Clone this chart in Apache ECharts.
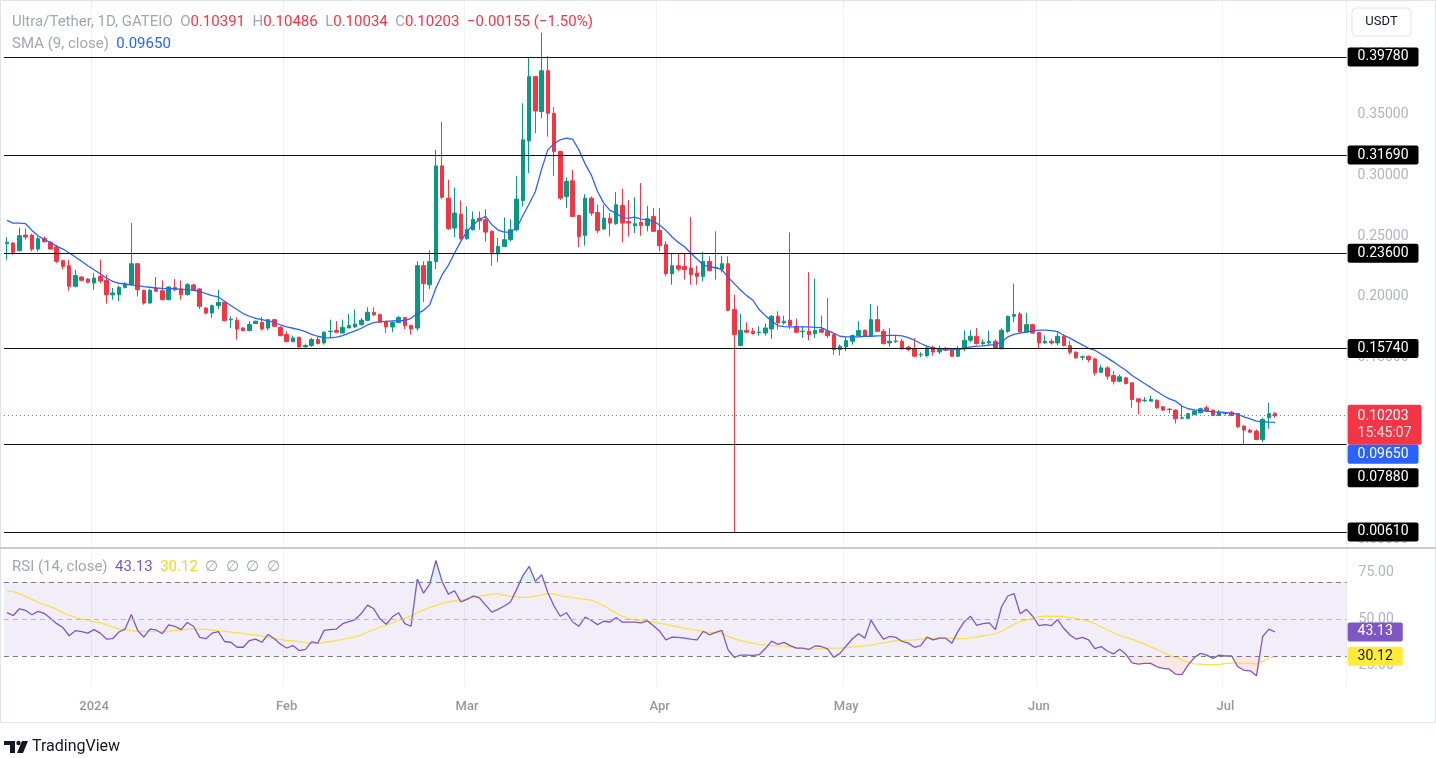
<!DOCTYPE html>
<html><head><meta charset="utf-8">
<style>html,body{margin:0;padding:0;background:#fff;}#c{width:1436px;height:758px;}</style>
<script src="https://cdn.jsdelivr.net/npm/echarts@6.0.0/dist/echarts.min.js"></script>
</head><body><div id="c"></div>
<script>
// ---------- data ----------
const startDate = '2023-12-18';
const futureSlots = 11;
const open = [0.2438,0.2444,0.2380,0.2509,0.2509,0.2394,0.2482,0.2449,0.2411,0.2298,
0.2257,0.2087,0.2164,0.2147,0.2114,0.2169,0.2136,0.2016,0.2018,0.2078,
0.2100,0.2273,0.2054,0.1949,0.2073,0.2051,0.1977,0.2078,0.2067,0.2018,
0.2098,0.2065,0.1908,0.1867,0.1927,0.1955,0.1810,0.1807,0.1743,0.1722,
0.1779,0.1790,0.1743,0.1812,0.1749,0.1689,0.1631,0.1667,0.1587,0.1598,
0.1648,0.1620,0.1713,0.1722,0.1702,0.1743,0.1752,0.1771,0.1807,0.1873,
0.1853,0.1799,0.1752,0.1788,0.1829,0.1763,0.1743,0.2257,0.2100,0.2290,
0.3080,0.2814,0.2567,0.2682,0.2479,0.2553,0.2649,0.2636,0.2540,0.2353,
0.2416,0.2471,0.2553,0.2795,0.3286,0.3816,0.3528,0.3865,0.3514,0.3198,
0.2828,0.2957,0.2671,0.2507,0.2814,0.2696,0.2559,0.2649,0.2603,0.2754,
0.2622,0.2586,0.2614,0.2589,0.2663,0.2548,0.2430,0.2191,0.2257,0.2251,
0.2238,0.2197,0.2169,0.2293,0.2238,0.2229,0.2273,0.1895,0.1598,0.1724,
0.1716,0.1705,0.1702,0.1735,0.1840,0.1785,0.1807,0.1757,0.1713,0.1716,
0.1697,0.1730,0.1716,0.1689,0.1565,0.1587,0.1634,0.1680,0.1724,0.1680,
0.1812,0.1716,0.1620,0.1636,0.1634,0.1585,0.1571,0.1522,0.1516,0.1585,
0.1546,0.1576,0.1560,0.1510,0.1571,0.1642,0.1675,0.1615,0.1620,0.1634,
0.1571,0.1716,0.1840,0.1859,0.1708,0.1771,0.1708,0.1620,0.1634,0.1620,
0.1675,0.1598,0.1543,0.1502,0.1510,0.1488,0.1378,0.1414,0.1351,0.1304,
0.1332,0.1291,0.1159,0.1145,0.1140,0.1148,0.1093,0.1074,0.1066,0.0999,
0.0997,0.1030,0.1044,0.1085,0.1066,0.1022,0.1041,0.1049,0.1038,0.0934,
0.0901,0.0893,0.0824,0.1003,0.10391];
const close = [0.2449,0.2367,0.2504,0.2493,0.2394,0.2479,0.2454,0.2394,0.2293,0.2251,
0.2087,0.2175,0.2136,0.2120,0.2155,0.2131,0.2018,0.2032,0.2078,0.2106,
0.2273,0.2059,0.1949,0.2054,0.2046,0.1977,0.2081,0.2059,0.2018,0.2100,
0.2059,0.1922,0.1867,0.1927,0.1955,0.1804,0.1815,0.1735,0.1722,0.1771,
0.1799,0.1735,0.1812,0.1757,0.1680,0.1631,0.1661,0.1587,0.1598,0.1648,
0.1615,0.1708,0.1717,0.1708,0.1749,0.1763,0.1776,0.1807,0.1873,0.1853,
0.1790,0.1752,0.1790,0.1829,0.1763,0.1735,0.2257,0.2109,0.2290,0.3080,
0.2822,0.2562,0.2691,0.2479,0.2556,0.2638,0.2627,0.2534,0.2367,0.2416,
0.2471,0.2553,0.2806,0.3295,0.3816,0.3533,0.3865,0.3514,0.3198,0.2814,
0.2951,0.2663,0.2498,0.2814,0.2691,0.2548,0.2649,0.2608,0.2759,0.2608,
0.2608,0.2603,0.2589,0.2644,0.2540,0.2422,0.2191,0.2257,0.2229,0.2224,
0.2183,0.2169,0.2293,0.2216,0.2243,0.2273,0.1889,0.1689,0.1724,0.1708,
0.1697,0.1710,0.1743,0.1840,0.1785,0.1799,0.1763,0.1708,0.1717,0.1689,
0.1722,0.1708,0.1680,0.1565,0.1593,0.1639,0.1680,0.1722,0.1675,0.1812,
0.1716,0.1615,0.1634,0.1631,0.1571,0.1565,0.1510,0.1526,0.1579,0.1546,
0.1565,0.1560,0.1510,0.1571,0.1642,0.1675,0.1615,0.1626,0.1631,0.1579,
0.1724,0.1840,0.1854,0.1711,0.1771,0.1702,0.1620,0.1634,0.1620,0.1675,
0.1598,0.1543,0.1497,0.1505,0.1483,0.1373,0.1414,0.1346,0.1304,0.1340,
0.1285,0.1153,0.1134,0.1148,0.1153,0.1085,0.1066,0.1071,0.0994,0.1003,
0.1036,0.1058,0.1077,0.1058,0.1022,0.1049,0.1038,0.1022,0.0928,0.0901,
0.0884,0.0824,0.0989,0.10358,0.10203];
const high = [0.2493,0.2449,0.2570,0.2564,0.2520,0.2498,0.2498,0.2457,0.2430,0.2306,
0.2306,0.2224,0.2169,0.2155,0.2196,0.2306,0.2183,0.2073,0.2092,0.2120,
0.2608,0.2279,0.2059,0.2065,0.2164,0.2136,0.2087,0.2147,0.2136,0.2114,
0.2109,0.2070,0.1914,0.1936,0.2059,0.1963,0.1840,0.1831,0.1749,0.1799,
0.1804,0.1834,0.1818,0.1818,0.1757,0.1716,0.1680,0.1670,0.1614,0.1661,
0.1675,0.1716,0.1812,0.1799,0.1812,0.1859,0.1895,0.1826,0.1914,0.1914,
0.1862,0.1799,0.1799,0.1840,0.1834,0.1771,0.2293,0.2293,0.2383,0.3212,
0.3445,0.2965,0.2902,0.2795,0.2745,0.2704,0.2704,0.2723,0.2548,0.2485,
0.2655,0.2641,0.2998,0.3596,0.3975,0.3816,0.4178,0.3986,0.3564,0.3198,
0.2984,0.3047,0.2677,0.2847,0.2828,0.2759,0.2759,0.2691,0.2864,0.2891,
0.2800,0.2822,0.2938,0.2751,0.2732,0.2732,0.2457,0.2356,0.2356,0.2361,
0.2658,0.2257,0.2372,0.2334,0.2540,0.2339,0.2334,0.2018,0.1862,0.1790,
0.1743,0.1757,0.1779,0.1851,0.1881,0.1845,0.2531,0.1820,0.1757,0.2205,
0.2150,0.1845,0.1991,0.1689,0.1606,0.1667,0.1689,0.1799,0.1730,0.1941,
0.1928,0.1735,0.1743,0.1680,0.1653,0.1598,0.1661,0.1543,0.1593,0.1598,
0.1598,0.1587,0.1571,0.1593,0.1724,0.1724,0.1743,0.1648,0.1722,0.1648,
0.1743,0.1845,0.2109,0.1873,0.1867,0.1777,0.1708,0.1683,0.1653,0.1708,
0.1689,0.1639,0.1552,0.1516,0.1516,0.1497,0.1442,0.1428,0.1387,0.1359,
0.1340,0.1291,0.1159,0.1173,0.1186,0.1153,0.1099,0.1085,0.1071,0.1099,
0.1044,0.1071,0.1085,0.1104,0.1071,0.1066,0.1049,0.1058,0.1044,0.0939,
0.0912,0.0906,0.1003,0.1126,0.10486];
const low = [0.2306,0.2348,0.2375,0.2471,0.2375,0.2375,0.2449,0.2389,0.2279,0.2229,
0.2051,0.2078,0.2128,0.2112,0.2059,0.2114,0.1944,0.1977,0.1963,0.2070,
0.2092,0.2004,0.1936,0.1944,0.2043,0.1971,0.1971,0.2046,0.1977,0.2010,
0.2054,0.1900,0.1853,0.1826,0.1900,0.1799,0.1743,0.1648,0.1716,0.1716,
0.1776,0.1724,0.1724,0.1752,0.1675,0.1626,0.1626,0.1584,0.1584,0.1587,
0.1606,0.1606,0.1661,0.1702,0.1697,0.1743,0.1743,0.1763,0.1799,0.1840,
0.1785,0.1702,0.1708,0.1785,0.1735,0.1689,0.1722,0.1955,0.2065,0.2229,
0.2806,0.2553,0.2493,0.2471,0.2471,0.2548,0.2553,0.2457,0.2257,0.2284,
0.2416,0.2457,0.2540,0.2745,0.3020,0.3349,0.3473,0.3322,0.2998,0.2800,
0.2732,0.2658,0.2411,0.2422,0.2669,0.2526,0.2553,0.2498,0.2595,0.2449,
0.2498,0.2526,0.2504,0.2540,0.2540,0.2375,0.2169,0.2100,0.2210,0.2142,
0.2100,0.2100,0.2128,0.2210,0.2142,0.2202,0.1881,0.0061,0.1593,0.1702,
0.1689,0.1680,0.1680,0.1653,0.1730,0.1771,0.1735,0.1702,0.1661,0.1642,
0.1661,0.1702,0.1661,0.1524,0.1516,0.1551,0.1606,0.1675,0.1669,0.1675,
0.1708,0.1606,0.1587,0.1620,0.1565,0.1552,0.1510,0.1502,0.1502,0.1516,
0.1530,0.1552,0.1505,0.1505,0.1552,0.1626,0.1606,0.1598,0.1598,0.1573,
0.1571,0.1702,0.1790,0.1702,0.1702,0.1697,0.1571,0.1615,0.1606,0.1598,
0.1593,0.1524,0.1488,0.1477,0.1461,0.1351,0.1373,0.1318,0.1277,0.1296,
0.1277,0.1085,0.1030,0.1131,0.1140,0.1077,0.1057,0.1038,0.0956,0.0994,
0.0994,0.1022,0.1038,0.1049,0.1016,0.1016,0.1022,0.1016,0.0920,0.0783,
0.0879,0.0819,0.0802,0.0912,0.10034];
const sma9 = [0.2630,0.2608,0.2608,0.2603,0.2548,0.2504,0.2471,0.2449,0.2416,0.2394,
0.2361,0.2328,0.2293,0.2257,0.2224,0.2191,0.2155,0.2128,0.2112,0.2106,
0.2098,0.2092,0.2084,0.2079,0.2073,0.2070,0.2068,0.2068,0.2062,0.2059,
0.2054,0.2046,0.2026,0.2010,0.1999,0.1963,0.1928,0.1895,0.1862,0.1840,
0.1823,0.1812,0.1801,0.1790,0.1768,0.1752,0.1741,0.1730,0.1713,0.1691,
0.1675,0.1664,0.1661,0.1667,0.1680,0.1700,0.1719,0.1741,0.1768,0.1787,
0.1796,0.1798,0.1801,0.1804,0.1804,0.1823,0.1862,0.1889,0.1935,0.2073,
0.2183,0.2260,0.2361,0.2457,0.2540,0.2595,0.2636,0.2663,0.2595,0.2551,
0.2534,0.2534,0.2570,0.2671,0.2768,0.2869,0.3053,0.3212,0.3262,0.3295,
0.3308,0.3300,0.3212,0.3097,0.3004,0.2869,0.2773,0.2713,0.2691,0.2652,
0.2649,0.2658,0.2641,0.2636,0.2622,0.2592,0.2548,0.2493,0.2449,0.2413,
0.2361,0.2312,0.2262,0.2249,0.2240,0.2224,0.2161,0.2109,0.2057,0.2010,
0.1972,0.1895,0.1845,0.1801,0.1763,0.1755,0.1752,0.1752,0.1752,0.1752,
0.1749,0.1746,0.1722,0.1700,0.1675,0.1670,0.1670,0.1670,0.1675,0.1675,
0.1678,0.1680,0.1683,0.1683,0.1678,0.1664,0.1642,0.1615,0.1593,0.1576,
0.1571,0.1565,0.1562,0.1565,0.1576,0.1587,0.1593,0.1595,0.1601,0.1606,
0.1626,0.1670,0.1691,0.1700,0.1711,0.1719,0.1725,0.1725,0.1722,0.1714,
0.1683,0.1659,0.1631,0.1604,0.1576,0.1560,0.1529,0.1497,0.1464,0.1428,
0.1395,0.1351,0.1318,0.1285,0.1253,0.1219,0.1186,0.1159,0.1140,0.1099,
0.1077,0.1068,0.1063,0.1058,0.1052,0.1049,0.1046,0.1041,0.1030,0.1011,
0.0994,0.0975,0.0970,0.0967,0.0965];
const rsi = [53.5,52.0,55.6,54.7,52.4,54.2,53.1,50.5,47.6,45.5,
41.1,43.8,43.3,42.5,44.4,42.5,39.3,39.5,43.1,44.7,
52.5,44.0,40.4,44.7,44.2,42.2,46.9,46.2,44.4,48.2,
46.2,40.2,39.5,42.5,43.3,38.0,37.6,34.9,34.9,38.5,
39.3,37.6,41.8,39.5,36.5,34.5,35.8,33.1,33.8,37.8,
37.1,44.0,44.4,44.7,47.6,48.7,49.8,53.1,57.6,55.6,
50.2,47.3,51.3,53.5,47.6,46.2,71.6,64.0,68.9,81.6,
70.2,63.5,65.3,59.3,60.7,62.5,61.5,57.6,53.8,55.3,
57.1,59.3,66.2,73.5,78.5,70.4,74.0,64.4,57.1,51.6,
53.5,48.5,46.2,51.1,49.3,47.1,48.9,48.5,50.9,48.4,
48.4,48.4,48.0,49.1,46.5,43.5,38.9,40.4,40.2,39.8,
39.3,38.9,43.5,41.6,42.9,44.0,33.5,29.5,30.7,30.7,
30.5,30.9,34.2,38.2,36.5,37.5,35.8,34.4,34.4,33.8,
35.6,35.3,34.0,29.5,31.6,35.6,39.5,42.2,39.8,49.5,
44.0,39.3,40.7,40.2,38.0,37.1,34.9,35.8,40.4,38.9,
39.8,39.8,37.1,43.6,48.7,51.6,46.7,47.6,48.0,44.4,
56.7,62.5,63.8,52.9,55.3,51.6,46.5,47.1,46.5,49.8,
45.1,41.5,39.3,40.2,38.9,34.2,35.3,32.9,31.3,33.8,
31.1,26.5,25.8,26.2,26.2,24.4,23.5,23.1,20.4,20.2,
25.3,29.3,31.6,30.7,28.9,30.7,30.2,30.2,24.4,22.5,
22.2,19.5,40.7,44.7,43.13];
const rsiMa = [65.3,64.9,63.6,62.2,60.7,59.1,57.8,56.7,55.3,53.6,
52.0,51.1,50.0,49.5,48.7,48.0,46.9,45.8,44.7,44.4,
43.8,43.6,43.5,43.3,43.5,43.5,43.6,44.0,44.2,44.5,
44.7,44.7,44.5,44.2,43.8,43.5,43.1,42.7,42.2,41.8,
41.5,40.9,40.4,39.6,39.1,38.5,38.4,37.8,37.5,36.9,
36.9,37.5,38.0,38.5,39.1,39.8,40.5,41.6,43.1,44.4,
45.8,46.9,48.0,49.3,50.5,51.8,53.5,54.9,56.4,57.5,
58.5,59.5,59.8,60.4,60.9,61.8,62.4,62.9,63.5,63.8,
62.9,62.4,62.0,61.6,62.0,62.5,63.1,63.8,63.5,62.7,
62.2,61.6,61.1,60.7,60.2,58.9,57.1,55.3,53.3,51.6,
50.4,49.6,49.3,48.9,48.4,47.8,47.3,46.5,45.8,45.1,
44.5,44.0,43.5,42.9,42.7,42.5,40.7,39.6,38.5,37.6,
37.1,36.4,36.0,35.8,35.6,35.5,35.1,34.5,34.2,33.8,
34.0,34.2,34.4,34.4,34.4,34.7,35.1,35.3,35.6,36.0,
36.7,37.3,37.8,38.4,38.5,38.7,38.9,39.3,39.5,39.6,
39.8,39.8,39.8,39.6,39.5,40.0,40.5,41.1,41.6,42.2,
43.5,45.5,47.3,48.7,49.6,50.5,51.3,51.6,51.6,51.6,
51.5,50.9,50.4,49.6,48.9,47.6,45.8,44.2,42.7,41.3,
40.2,39.1,37.8,36.7,35.1,33.6,32.2,30.5,29.3,28.0,
26.7,26.0,25.8,25.6,25.6,25.6,26.2,26.4,26.5,26.4,
26.2,25.8,27.3,29.1,30.12];
const levels = [0.3978, 0.3169, 0.2360, 0.1574, 0.0788, 0.0061];
const priceTicks = [0, 0.05, 0.10, 0.15, 0.20, 0.25, 0.30, 0.35, 0.40];
const rsiTicks = [25, 50, 75];
const rsiBands = [70, 50, 30];
const monthTickDates = ['2024-01-01','2024-02-01','2024-03-01','2024-04-01','2024-05-01','2024-06-01','2024-07-01'];
const monthTickLabels = ['2024','Feb','Mar','Apr','May','Jun','Jul'];
const lastPrice = 0.10203, countdown = '15:45:07', smaLast = 0.0965, rsiLast = 43.13, rsiMaLast = 30.12;

// ---------- build ----------
const FONT = "Roboto, 'Noto Sans', sans-serif";
const n = open.length;
const dates = [];
const d0 = new Date(startDate + 'T00:00:00Z');
for (let k = 0; k < n + futureSlots; k++) {
  dates.push(new Date(d0.getTime() + k * 86400000).toISOString().slice(0, 10));
}
const tickMap = {};
monthTickDates.forEach((d, i) => { tickMap[d] = monthTickLabels[i]; });
const isTick = (idx, val) => tickMap[val] !== undefined;
const candles = open.map((o, i) => [o, close[i], low[i], high[i]]);

const GREEN = '#089981', RED = '#f23645';
const boxLabel = {
  show: true, position: 'end', distance: 1, backgroundColor: '#000', color: '#fff',
  padding: [3, 10, 2, 10], fontSize: 14, fontFamily: FONT, borderRadius: 2,
  formatter: p => Number(p.value).toFixed(5)
};

const levelLines = levels.map(v => ({
  yAxis: v,
  lineStyle: { color: '#111', width: 1.2, type: 'solid' },
  label: v === 0.0788 ? { offset: [0, 34] } : {}
}));
levelLines.push({
  yAxis: lastPrice,
  lineStyle: { color: RED, width: 1, type: [1, 3] },
  label: {
    backgroundColor: RED, offset: [0, 9], padding: [3, 10, 3, 10],
    formatter: () => '{a|' + lastPrice.toFixed(5) + '}\n{b|' + countdown + '}',
    rich: { a: { color: '#fff', fontSize: 14, fontFamily: FONT, lineHeight: 17 },
            b: { color: '#ffdfe2', fontSize: 14, fontFamily: FONT, lineHeight: 17 } }
  }
});

const GRID_LEFT = 3.9, GRID_W = 1342.7;
const option = {
  animation: false,
  backgroundColor: '#fff',
  grid: [
    { left: GRID_LEFT, width: GRID_W, top: 0, height: 547, containLabel: false, outerBoundsMode: 'none' },
    { left: GRID_LEFT, width: GRID_W, top: 549, height: 138, containLabel: false, outerBoundsMode: 'none' }
  ],
  xAxis: [
    { type: 'category', gridIndex: 0, data: dates, boundaryGap: true,
      axisLine: { show: false }, axisTick: { show: false }, axisLabel: { show: false },
      splitLine: { show: true, interval: isTick, lineStyle: { color: '#f2f3f6', width: 1 } } },
    { type: 'category', gridIndex: 1, data: dates, boundaryGap: true,
      axisLine: { show: false }, axisTick: { show: false },
      axisLabel: { show: true, interval: isTick, formatter: v => tickMap[v] || '',
        color: '#9598a1', fontSize: 13, fontFamily: FONT, margin: 13, fontWeight: 500 },
      splitLine: { show: true, interval: isTick, lineStyle: { color: '#f2f3f6', width: 1 } } }
  ],
  yAxis: [
    { type: 'value', gridIndex: 0, position: 'right', min: -0.0063, max: 0.4448,
      axisLine: { show: false }, axisTick: { show: false, customValues: priceTicks },
      axisLabel: { customValues: priceTicks, formatter: v => v.toFixed(5), color: '#b2b5be',
        fontSize: 14, fontFamily: FONT, margin: 11 },
      splitLine: { show: false } },
    { type: 'value', gridIndex: 1, position: 'right', min: 13.5, max: 87.8,
      axisLine: { show: false }, axisTick: { show: false, customValues: rsiTicks },
      axisLabel: { customValues: rsiTicks, formatter: v => v.toFixed(2), color: '#b2b5be',
        fontSize: 14, fontFamily: FONT, margin: 12 },
      splitLine: { show: false } }
  ],
  series: [
    { name: 'Ultra/Tether', type: 'candlestick', xAxisIndex: 0, yAxisIndex: 0, data: candles,
      barWidth: 4, z: 3,
      itemStyle: { color: GREEN, color0: RED, borderColor: GREEN, borderColor0: RED, borderWidth: 1 },
      markLine: { silent: true, symbol: ['none', 'none'], animation: false, precision: 5, label: boxLabel, data: levelLines } },
    { name: 'SMA', type: 'line', xAxisIndex: 0, yAxisIndex: 0, data: sma9, symbol: 'none', z: 4,
      lineStyle: { color: '#2962ff', width: 1.3 }, itemStyle: { color: '#2962ff' },
      markLine: { silent: true, symbol: ['none', 'none'], animation: false, precision: 5,
        data: [{ yAxis: smaLast, lineStyle: { color: 'rgba(0,0,0,0)', width: 0 },
          label: Object.assign({}, boxLabel, { backgroundColor: '#2962ff', offset: [0, 32] }) }] } },
    // RSI fills
    { type: 'line', xAxisIndex: 1, yAxisIndex: 1, data: rsi.map(() => rsiBands[0]), stack: 'hi',
      symbol: 'none', silent: true, lineStyle: { opacity: 0, width: 0 }, z: 1 },
    { type: 'line', xAxisIndex: 1, yAxisIndex: 1, data: rsi.map(v => Math.max(v - rsiBands[0], 0)), stack: 'hi',
      symbol: 'none', silent: true, lineStyle: { opacity: 0, width: 0 }, z: 1,
      areaStyle: { color: 'rgba(8,153,129,0.18)' } },
    { type: 'line', xAxisIndex: 1, yAxisIndex: 1, data: rsi.map(v => Math.min(v, rsiBands[2])), stack: 'lo',
      symbol: 'none', silent: true, lineStyle: { opacity: 0, width: 0 }, z: 1 },
    { type: 'line', xAxisIndex: 1, yAxisIndex: 1, data: rsi.map(v => rsiBands[2] - Math.min(v, rsiBands[2])), stack: 'lo',
      symbol: 'none', silent: true, lineStyle: { opacity: 0, width: 0 }, z: 1,
      areaStyle: { color: 'rgba(242,54,69,0.18)' } },
    { name: 'RSI', type: 'line', xAxisIndex: 1, yAxisIndex: 1, data: rsi, symbol: 'none', z: 4,
      lineStyle: { color: '#7e57c2', width: 1.3 }, itemStyle: { color: '#7e57c2' },
      markArea: { silent: true, itemStyle: { color: 'rgba(126,87,194,0.1)' },
        data: [[{ yAxis: rsiBands[2] }, { yAxis: rsiBands[0] }]] },
      markLine: { silent: true, symbol: ['none', 'none'], animation: false, precision: 2,
        data: [
          { yAxis: rsiBands[0], lineStyle: { color: '#787b86', width: 1, type: [5, 4] }, label: { show: false } },
          { yAxis: rsiBands[1], lineStyle: { color: '#b8bac2', width: 1, type: [5, 4] }, label: { show: false } },
          { yAxis: rsiBands[2], lineStyle: { color: '#787b86', width: 1, type: [5, 4] }, label: { show: false } },
          { yAxis: rsiLast, lineStyle: { color: 'rgba(0,0,0,0)', width: 0 },
            label: Object.assign({}, boxLabel, { backgroundColor: '#7e57c2', formatter: p => Number(p.value).toFixed(2) }) }
        ] } },
    { name: 'RSI MA', type: 'line', xAxisIndex: 1, yAxisIndex: 1, data: rsiMa, symbol: 'none', z: 3,
      lineStyle: { color: '#f7e24b', width: 1.3 }, itemStyle: { color: '#f7e24b' },
      markLine: { silent: true, symbol: ['none', 'none'], animation: false, precision: 2,
        data: [{ yAxis: rsiMaLast, lineStyle: { color: 'rgba(0,0,0,0)', width: 0 },
          label: Object.assign({}, boxLabel, { backgroundColor: '#ffeb3b', color: '#131722', formatter: p => Number(p.value).toFixed(2) }) }] } }
  ],
  graphic: [
    { type: 'rect', silent: true, z: 100, shape: { x: 0.5, y: 0.5, width: 1435, height: 722 },
      style: { fill: 'none', stroke: '#e0e3eb', lineWidth: 1 } },
    { type: 'line', silent: true, z: 100, shape: { x1: 0, y1: 548, x2: 1436, y2: 548 },
      style: { stroke: '#c9cbd1', lineWidth: 2 } },
    { type: 'rect', silent: true, z: 100, shape: { x: 1352, y: 8, width: 59, height: 28, r: 4 },
      style: { fill: '#fff', stroke: '#e0e3eb', lineWidth: 1 } },
    { type: 'text', silent: true, z: 101, style: { x: 1381.5, y: 22, text: 'USDT', align: 'center', verticalAlign: 'middle',
      font: '13px ' + FONT, fill: '#131722' } },
    { type: 'text', silent: true, z: 101, style: { x: 12, y: 22, verticalAlign: 'middle', font: '15px ' + FONT, fill: '#a3a6af',
      text: '{g|Ultra/Tether, 1D, GATEIO}  {g|O}{r|0.10391}  {g|H}{r|0.10486}  {g|L}{r|0.10034}  {g|C}{r|0.10203}  {r|\u22120.00155 (\u22121.50%)}',
      rich: { g: { fill: '#a3a6af', font: '15px ' + FONT }, r: { fill: RED, font: '15px ' + FONT } } } },
    { type: 'text', silent: true, z: 101, style: { x: 12, y: 44, verticalAlign: 'middle', font: '15px ' + FONT, fill: '#a3a6af',
      text: '{g|SMA (9, close)}  {b|0.09650}',
      rich: { g: { fill: '#a3a6af', font: '15px ' + FONT }, b: { fill: '#2962ff', font: '15px ' + FONT } } } },
    { type: 'text', silent: true, z: 101, style: { x: 12, y: 567, verticalAlign: 'middle', font: '15px ' + FONT, fill: '#a3a6af',
      text: '{g|RSI (14, close)}  {p|43.13}  {y|30.12}  {g|\u2205  \u2205  \u2205  \u2205}',
      rich: { g: { fill: '#a3a6af', font: '15px ' + FONT }, p: { fill: '#7e57c2', font: '15px ' + FONT },
              y: { fill: '#f5d327', font: '15px ' + FONT } } } },
    // TradingView logo
    { type: 'polygon', silent: true, z: 101, shape: { points: [[4, 741], [15, 741], [15, 753], [10, 753], [10, 745], [4, 745]] },
      style: { fill: '#131722' } },
    { type: 'circle', silent: true, z: 101, shape: { cx: 18.5, cy: 743, r: 2.2 }, style: { fill: '#131722' } },
    { type: 'polygon', silent: true, z: 101, shape: { points: [[22, 741], [28, 741], [23, 753], [17, 753]] },
      style: { fill: '#131722' } },
    { type: 'text', silent: true, z: 101, style: { x: 32, y: 747, verticalAlign: 'middle', text: 'TradingView',
      font: '16px ' + FONT, fill: '#131722' } }
  ]
};
const chart = echarts.init(document.getElementById('c'));
chart.setOption(option);
</script>
</body></html>
